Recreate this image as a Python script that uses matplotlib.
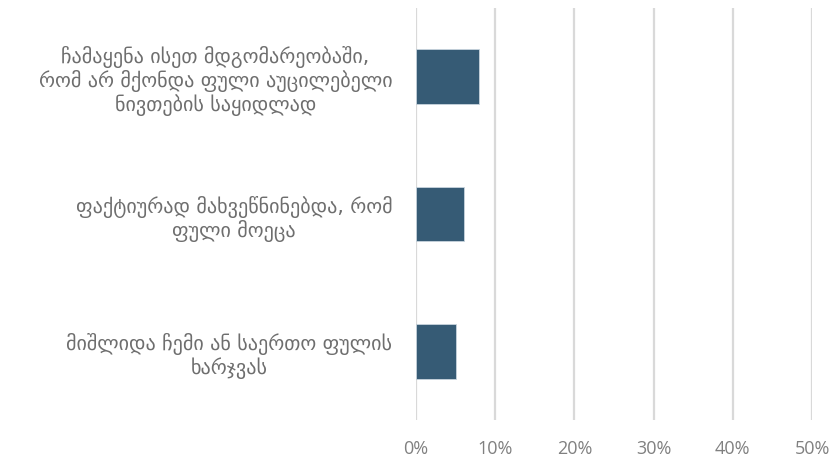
import matplotlib
matplotlib.use("Agg")
import matplotlib.pyplot as plt
from matplotlib.ticker import FuncFormatter

categories = [
    "ჩამაყენა ისეთ მდგომარეობაში,\nრომ არ მქონდა ფული აუცილებელი\nნივთების საყიდლად",
    "ფაქტიურად მახვეწნინებდა, რომ\nფული მოეცა",
    "მიშლიდა ჩემი ან საერთო ფულის\nხარჯვას",
]
values = [0.08, 0.06, 0.05]
xticks = [0.0, 0.1, 0.2, 0.3, 0.4, 0.5]

plt.rcParams['font.family'] = ['Open Sans', 'DejaVu Sans']

fig = plt.figure(figsize=(8.36, 4.64), dpi=100)
ax = fig.add_axes([416/836, 43/464, 396/836, 412/464])

ypos = list(range(len(categories)))
ax.barh(ypos, values, height=0.4, color='#365B75', edgecolor='#c8d4dd', linewidth=0.6, zorder=3)
ax.set_ylim(len(categories) - 0.5, -0.5)
ax.set_xlim(0, 0.5)
ax.set_xticks(xticks)
ax.xaxis.set_major_formatter(FuncFormatter(lambda v, p: f"{v*100:.0f}%"))
ax.set_yticks(ypos)
ax.set_yticklabels(categories, family=['DejaVu Sans'], fontsize=14.5, color='#6e6e6e',
                   multialignment='center', linespacing=1.13)
ax.grid(axis='x', color='#D9D9D9', linewidth=1.6, zorder=0)
for s in ax.spines.values():
    s.set_visible(False)
ax.tick_params(axis='both', length=0)
ax.tick_params(axis='y', pad=17)
ax.tick_params(axis='x', pad=14, labelsize=13, labelcolor='#808080')

fig.savefig("out.png", dpi=100)
